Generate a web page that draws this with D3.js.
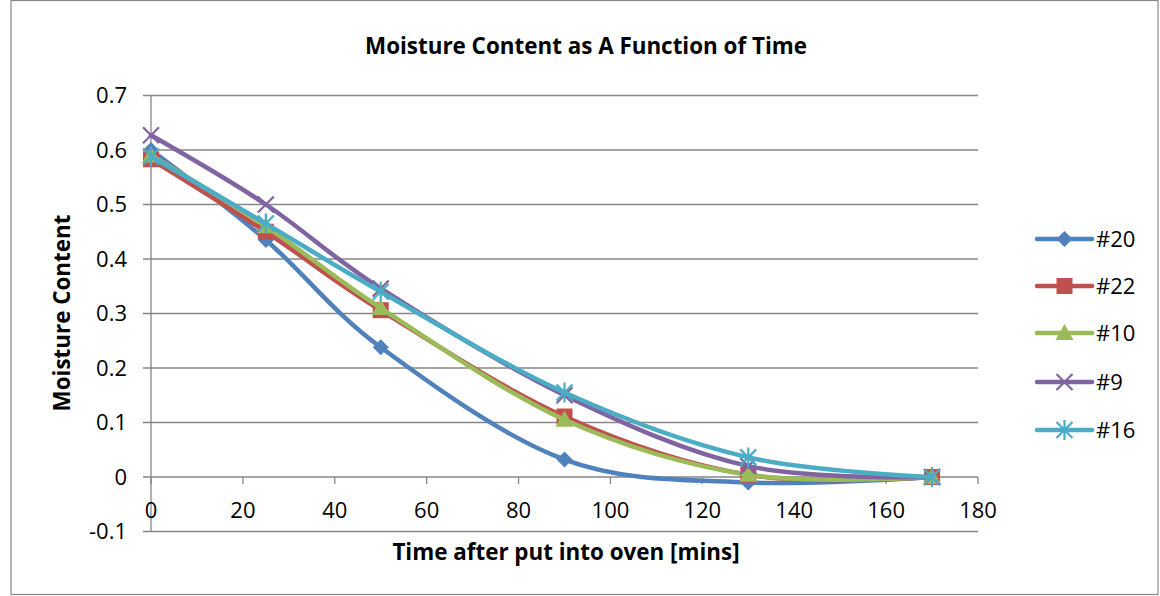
<!DOCTYPE html>
<html><head><meta charset="utf-8">
<script src="https://cdn.jsdelivr.net/npm/d3@7"></script>
<style>body{margin:0;background:#fff}svg{display:block}text{font-family:"Open Sans",Lato,sans-serif}</style>
</head><body><svg id="c" width="1160" height="596"></svg>
<script>
const times = [0, 25, 50, 90, 130, 170];
const seriesNames = ["#20", "#22", "#10", "#9", "#16"];
const s20 = [0.60, 0.435, 0.238, 0.032, -0.010, 0];
const s22 = [0.583, 0.450, 0.306, 0.111, 0.004, 0];
const s10 = [0.590, 0.460, 0.310, 0.105, 0.004, 0];
const s9  = [0.627, 0.500, 0.346, 0.150, 0.020, 0];
const s16 = [0.588, 0.465, 0.340, 0.155, 0.036, 0];
const xTicks = [0,20,40,60,80,100,120,140,160,180];
const yTicks = [-0.1,0,0.1,0.2,0.3,0.4,0.5,0.6,0.7];
const colors = ["#4F81BD","#C0504D","#9BBB59","#8064A2","#4BACC6"];
const markers = ["diamond","square","triangle","x","star"];
const allSeries = [s20,s22,s10,s9,s16];

const svg = d3.select("#c");
svg.append("rect").attr("x",11).attr("y",0.5).attr("width",1147).attr("height",594).attr("fill","none").attr("stroke","#888").attr("stroke-width",1.2);

const x = d3.scaleLinear().domain([0,180]).range([151,978]);
const y = d3.scaleLinear().domain([-0.1,0.7]).range([531.5,95.5]);

svg.append("g").selectAll("line").data(yTicks).join("line")
  .attr("x1",143).attr("x2",978).attr("y1",d=>y(d)).attr("y2",d=>y(d))
  .attr("stroke","#868686").attr("stroke-width",1.3);
svg.append("line").attr("x1",x(0)).attr("x2",x(0)).attr("y1",y(0.7)).attr("y2",y(-0.1)).attr("stroke","#868686").attr("stroke-width",1.3);
svg.append("g").selectAll("line").data(xTicks).join("line")
  .attr("x1",d=>x(d)).attr("x2",d=>x(d)).attr("y1",y(0)).attr("y2",y(0)+7)
  .attr("stroke","#868686").attr("stroke-width",1.3);
svg.append("g").selectAll("text").data(yTicks).join("text")
  .attr("x",127).attr("y",d=>y(d)).attr("dy","0.36em").attr("text-anchor","end")
  .attr("font-size",22).attr("fill","#000").text(d=>String(Math.round(d*10)/10));
svg.append("g").selectAll("text").data(xTicks).join("text")
  .attr("x",d=>x(d)).attr("y",510).attr("dy","0.36em").attr("text-anchor","middle")
  .attr("font-size",22).attr("fill","#000").text(d=>d);

svg.append("text").attr("x",586).attr("y",46).attr("dy","0.36em").attr("text-anchor","middle")
  .attr("font-size",22.4).attr("font-weight","bold").text("Moisture Content as A Function of Time");
svg.append("text").attr("x",566).attr("y",552).attr("dy","0.36em").attr("text-anchor","middle")
  .attr("font-size",22.4).attr("font-weight","bold").text("Time after put into oven [mins]");
svg.append("text").attr("transform","translate(62,313) rotate(-90)").attr("dy","0.36em").attr("text-anchor","middle")
  .attr("font-size",22.4).attr("font-weight","bold").text("Moisture Content");

function drawMarker(g, type, cx, cy, color){
  if(type==="diamond"){
    g.append("path").attr("d",`M${cx},${cy-8}L${cx+8},${cy}L${cx},${cy+8}L${cx-8},${cy}Z`).attr("fill",color);
  } else if(type==="square"){
    g.append("rect").attr("x",cx-8).attr("y",cy-8).attr("width",16).attr("height",16).attr("fill",color);
  } else if(type==="triangle"){
    g.append("path").attr("d",`M${cx},${cy-9}L${cx+9},${cy+7}L${cx-9},${cy+7}Z`).attr("fill",color);
  } else if(type==="x"){
    g.append("path").attr("d",`M${cx-8},${cy-8}L${cx+8},${cy+8}M${cx+8},${cy-8}L${cx-8},${cy+8}`).attr("stroke",color).attr("stroke-width",2.2);
  } else {
    g.append("path").attr("d",`M${cx-8},${cy-8}L${cx+8},${cy+8}M${cx+8},${cy-8}L${cx-8},${cy+8}M${cx},${cy-10}L${cx},${cy+10}`).attr("stroke",color).attr("stroke-width",2.2);
  }
}

const line = d3.line().x((d,i)=>x(times[i])).y(d=>y(d)).curve(d3.curveCardinal.tension(0));
allSeries.forEach((s,k)=>{
  const g = svg.append("g");
  g.append("path").attr("d",line(s)).attr("fill","none").attr("stroke",colors[k]).attr("stroke-width",4.5).attr("stroke-linejoin","round").attr("stroke-linecap","round");
  s.forEach((v,i)=>drawMarker(g,markers[k],x(times[i]),y(v),colors[k]));
});

const legY = [239,286,333,382,430];
seriesNames.forEach((n,k)=>{
  const g = svg.append("g");
  g.append("line").attr("x1",1037).attr("x2",1092).attr("y1",legY[k]).attr("y2",legY[k]).attr("stroke",colors[k]).attr("stroke-width",4.5).attr("stroke-linecap","round");
  drawMarker(g,markers[k],1064.5,legY[k],colors[k]);
  g.append("text").attr("x",1096).attr("y",legY[k]).attr("dy","0.36em").attr("font-size",22).text(n);
});
</script></body></html>
